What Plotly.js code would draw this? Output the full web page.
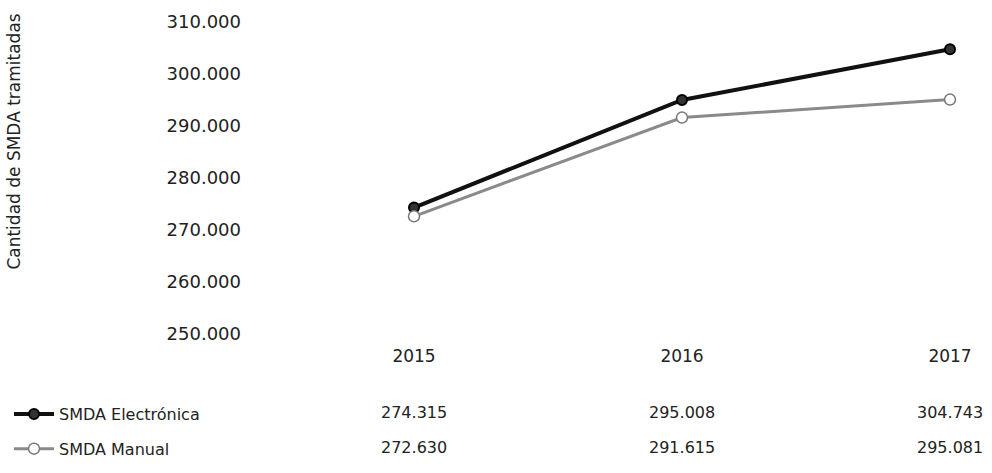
<!DOCTYPE html>
<html>
<head>
<meta charset="utf-8">
<script src="https://cdn.plot.ly/plotly-3.0.1.min.js"></script>
<style>html,body{margin:0;padding:0;background:#fff;}#chart{width:992px;height:473px;}</style>
</head>
<body>
<div id="chart"></div>
<script>
var years = ['2015', '2016', '2017'];
var electronica = [274315, 295008, 304743];
var manual = [272630, 291615, 295081];
var seriesNames = ['SMDA Electrónica', 'SMDA Manual'];
var yTitle = 'Cantidad de SMDA tramitadas';

var W = 992, H = 473;
var mL = 262, mR = 8, mT = 22, mB = 138;
var pw = W - mL - mR, ph = H - mT - mB;
function py(pix) { return (H - mB - pix) / ph; }
function px(pix) { return (pix - mL) / pw; }

var fontFam = 'DejaVu Sans, sans-serif';

var traces = [
  {
    x: years, y: electronica, name: seriesNames[0], type: 'scatter', mode: 'lines+markers',
    line: {color: '#111111', width: 4},
    marker: {symbol: 'circle', size: 10, color: '#333333', line: {color: '#000000', width: 2}},
    legendgroup: 'a'
  },
  {
    x: years, y: manual, name: seriesNames[1], type: 'scatter', mode: 'lines+markers',
    line: {color: '#8a8a8a', width: 3},
    marker: {symbol: 'circle', size: 11, color: '#ffffff', line: {color: '#777777', width: 1.5}},
    legendgroup: 'b'
  }
];

function fmt(v) {
  var s = String(v);
  return s.slice(0, s.length - 3) + '.' + s.slice(s.length - 3);
}

var annotations = [];
annotations.push({
  text: yTitle, xref: 'paper', yref: 'paper', x: px(14), y: py(142),
  textangle: -90, showarrow: false, xanchor: 'center', yanchor: 'middle',
  font: {family: fontFam, size: 17, color: '#222'}
});
var rows = [electronica, manual];
var rowY = [414, 449];
for (var r = 0; r < rows.length; r++) {
  for (var i = 0; i < years.length; i++) {
    annotations.push({
      text: fmt(rows[r][i]), xref: 'x', yref: 'paper', x: i, y: py(rowY[r]),
      showarrow: false, xanchor: 'center', yanchor: 'middle',
      font: {family: fontFam, size: 16, color: '#222'}
    });
  }
}

var layout = {
  width: W, height: H,
  margin: {l: mL, r: mR, t: mT, b: mB},
  paper_bgcolor: '#ffffff', plot_bgcolor: '#ffffff',
  separators: ',.',
  showlegend: true,
  legend: {
    x: px(9), y: py(466), xanchor: 'left', yanchor: 'bottom',
    traceorder: 'grouped', tracegroupgap: 11,
    font: {family: fontFam, size: 16, color: '#222'},
    bgcolor: 'rgba(0,0,0,0)', itemwidth: 40
  },
  xaxis: {
    type: 'category', range: [-152 / 268, -152 / 268 + pw / 268],
    showgrid: false, zeroline: false, showline: false, ticks: '',
    ticklabelstandoff: 10,
    tickfont: {family: fontFam, size: 17, color: '#222'}
  },
  yaxis: {
    range: [250000, 310000], dtick: 10000, tickformat: ',.0f',
    showgrid: false, zeroline: false, showline: false, ticks: '',
    ticklabelstandoff: 20,
    tickfont: {family: fontFam, size: 18, color: '#222'}
  },
  annotations: annotations
};

Plotly.newPlot('chart', traces, layout, {displayModeBar: false, staticPlot: true});
</script>
</body>
</html>
